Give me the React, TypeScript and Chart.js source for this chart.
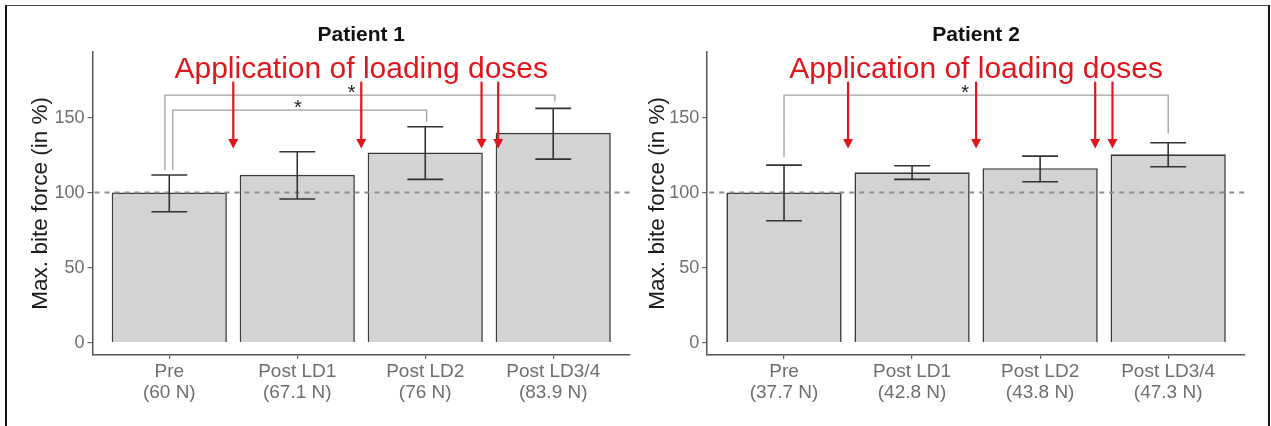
import React, { useEffect, useRef } from 'react';
import { Chart, registerables } from 'chart.js';

Chart.register(...registerables);

// ---------- data ----------
const categories = ['Pre', 'Post LD1', 'Post LD2', 'Post LD3/4'];
const p1Forces = ['(60 N)', '(67.1 N)', '(76 N)', '(83.9 N)'];
const p2Forces = ['(37.7 N)', '(42.8 N)', '(43.8 N)', '(47.3 N)'];

const p1Means = [100, 111.8, 126.7, 139.8];
const p1Lower = [87.2, 95.7, 108.8, 122.3];
const p1Upper = [111.7, 127.2, 143.9, 156.1];

const p2Means = [100, 113.5, 116.2, 125.5];
const p2Lower = [81.2, 108.8, 107.2, 117.2];
const p2Upper = [118.3, 117.9, 124.3, 133.2];

const yTicks = [0, 50, 100, 150];
const referenceLevel = 100;

// loading-dose arrows (category axis units)
const p1DoseArrows = [0.5, 1.5, 2.44, 2.57];
const p2DoseArrows = [0.5, 1.5, 2.43, 2.565];
const arrowTop = 173.9;
const arrowTip = 129.3;
const doseLabelLevel = 176.1;

// significance brackets: x1/x2 in category units, y levels in %
const p1Brackets = [
  { x1: -0.034, x2: 3.013, y: 165, y1: 115, y2: 160.5, starX: 1.425, label: '*' },
  { x1: 0.027, x2: 2.011, y: 155, y1: 115, y2: 147.2, starX: 1.005, label: '*' },
];
const p2Brackets = [
  { x1: 0, x2: 3, y: 165, y1: 123.9, y2: 139.5, starX: 1.415, label: '*' },
];

const FONT = "'Liberation Sans', Arial, Helvetica, sans-serif";

type PanelCfg = {
  id: string;
  title: string;
  left: number;
  width: number;
  yAxisWidth: number;
  padRight: number;
  yTitlePad: number;
  forces: string[];
  means: number[];
  lower: number[];
  upper: number[];
  arrows: number[];
  brackets: { x1: number; x2: number; y: number; y1: number; y2: number; starX: number; label: string }[];
};

const panels: PanelCfg[] = [
  {
    id: 'p1', title: 'Patient 1', left: 0, width: 640, yAxisWidth: 92.5, padRight: 10, yTitlePad: 27.3,
    forces: p1Forces, means: p1Means, lower: p1Lower, upper: p1Upper, arrows: p1DoseArrows, brackets: p1Brackets,
  },
  {
    id: 'p2', title: 'Patient 2', left: 640, width: 631, yAxisWidth: 67.2, padRight: 26, yTitlePad: 4.1,
    forces: p2Forces, means: p2Means, lower: p2Lower, upper: p2Upper, arrows: p2DoseArrows, brackets: p2Brackets,
  },
];

function makeAnnotPlugin(p: PanelCfg) {
  return {
    id: 'annot_' + p.id,
    afterDatasetsDraw(chart: any) {
      const { ctx, chartArea: ca } = chart;
      const x = chart.scales.x;
      const y = chart.scales.y;
      ctx.save();

      // reference dashed line
      const ry = y.getPixelForValue(referenceLevel);
      ctx.strokeStyle = '#8c8c8c';
      ctx.lineWidth = 2;
      ctx.setLineDash([5, 5]);
      ctx.beginPath();
      ctx.moveTo(ca.left + 2, ry);
      ctx.lineTo(ca.right, ry);
      ctx.stroke();
      ctx.setLineDash([]);

      // error bars
      ctx.strokeStyle = '#333';
      ctx.lineWidth = 1.6;
      const capHalf = 0.14;
      p.means.forEach((_, i) => {
        const cx = x.getPixelForValue(i);
        const yl = y.getPixelForValue(p.lower[i]);
        const yu = y.getPixelForValue(p.upper[i]);
        const c0 = x.getPixelForValue(i - capHalf);
        const c1 = x.getPixelForValue(i + capHalf);
        ctx.beginPath();
        ctx.moveTo(cx, yl); ctx.lineTo(cx, yu);
        ctx.moveTo(c0, yl); ctx.lineTo(c1, yl);
        ctx.moveTo(c0, yu); ctx.lineTo(c1, yu);
        ctx.stroke();
      });

      // significance brackets
      p.brackets.forEach((b) => {
        const bx1 = x.getPixelForValue(b.x1);
        const bx2 = x.getPixelForValue(b.x2);
        const by = y.getPixelForValue(b.y);
        ctx.strokeStyle = '#a0a0a0';
        ctx.lineWidth = 1.3;
        ctx.beginPath();
        ctx.moveTo(bx1, y.getPixelForValue(b.y1));
        ctx.lineTo(bx1, by);
        ctx.lineTo(bx2, by);
        ctx.lineTo(bx2, y.getPixelForValue(b.y2));
        ctx.stroke();
        ctx.fillStyle = '#222';
        ctx.font = `20px ${FONT}`;
        ctx.textAlign = 'center';
        ctx.textBaseline = 'alphabetic';
        ctx.fillText(b.label, x.getPixelForValue(b.starX), by + 4);
      });

      // red arrows
      const red = '#e0161c';
      ctx.strokeStyle = red;
      ctx.fillStyle = red;
      ctx.lineWidth = 2.2;
      const yt = y.getPixelForValue(arrowTop);
      const yp = y.getPixelForValue(arrowTip);
      p.arrows.forEach((a) => {
        const ax = x.getPixelForValue(a);
        ctx.beginPath();
        ctx.moveTo(ax, yt);
        ctx.lineTo(ax, yp - 7);
        ctx.stroke();
        ctx.beginPath();
        ctx.moveTo(ax - 5, yp - 9.5);
        ctx.lineTo(ax + 5, yp - 9.5);
        ctx.lineTo(ax, yp);
        ctx.closePath();
        ctx.fill();
      });

      // red label
      ctx.font = `30px ${FONT}`;
      ctx.textAlign = 'center';
      ctx.textBaseline = 'alphabetic';
      ctx.fillText('Application of loading doses', (ca.left + ca.right) / 2, y.getPixelForValue(doseLabelLevel));

      ctx.restore();
    },
  };
}

function Panel({ p }: { p: PanelCfg }) {
  const ref = useRef<HTMLCanvasElement>(null);
  useEffect(() => {
    if (!ref.current) return;
    Chart.defaults.font.family = FONT;
    const chart = new Chart(ref.current, {
      type: 'bar',
      data: {
        datasets: [
          {
            data: p.means.map((v, i) => ({ x: i, y: v })),
            backgroundColor: '#d3d3d3',
            borderColor: '#3a3a3a',
            borderWidth: 1.6,
            barPercentage: 0.9,
            categoryPercentage: 1,
          },
        ],
      },
      options: {
        responsive: false,
        animation: false,
        devicePixelRatio: 1,
        layout: { padding: { left: 0, right: p.padRight, top: 0, bottom: 0 } },
        plugins: {
          legend: { display: false },
          tooltip: { enabled: false },
          title: {
            display: true,
            text: p.title,
            fullSize: false,
            color: '#111',
            font: { size: 21, weight: 'bold', family: FONT },
            padding: { top: 22.4, bottom: 4.1 },
          },
        },
        scales: {
          x: {
            type: 'linear',
            offset: false,
            min: -0.6,
            max: 3.6,
            afterBuildTicks: (s: any) => {
              s.ticks = categories.map((_, i) => ({ value: i }));
            },
            afterFit: (s: any) => {
              s.height = 71;
            },
            ticks: {
              autoSkip: false,
              maxRotation: 0,
              padding: 2.5,
              color: '#6e6e6e',
              font: { size: 19, lineHeight: 1.1, family: FONT },
              callback: (v: any) => {
                const i = Math.round(Number(v));
                return [categories[i], p.forces[i]];
              },
            },
            grid: { offset: false, drawOnChartArea: false, drawTicks: true, tickLength: 4, color: '#666', lineWidth: 1.2 },
            border: { display: true, color: '#555', width: 1.5 },
          },
          y: {
            type: 'linear',
            min: -8.3,
            max: 193.9,
            afterBuildTicks: (s: any) => {
              s.ticks = yTicks.map((v) => ({ value: v }));
            },
            afterFit: (s: any) => {
              s.width = p.yAxisWidth;
            },
            ticks: {
              padding: 3,
              color: '#6e6e6e',
              font: { size: 18, family: FONT },
            },
            grid: { drawOnChartArea: false, drawTicks: true, tickLength: 5, color: '#666', lineWidth: 1.2 },
            border: { display: true, color: '#555', width: 1.5 },
            title: {
              display: true,
              text: 'Max. bite force (in %)',
              color: '#1a1a1a',
              font: { size: 22.5, family: FONT },
              padding: { top: p.yTitlePad, bottom: 0 },
            },
          },
        },
      } as any,
      plugins: [makeAnnotPlugin(p)],
    });
    return () => chart.destroy();
  }, [p]);
  return (
    <canvas
      ref={ref}
      width={p.width}
      height={426}
      style={{ position: 'absolute', left: p.left, top: 0, width: p.width, height: 426 }}
    />
  );
}

export default function App() {
  return (
    <div
      style={{
        position: 'fixed',
        left: 0,
        top: 0,
        width: 1271,
        height: 426,
        overflow: 'hidden',
        background: '#fff',
      }}
    >
      <div
        style={{
          position: 'absolute',
          left: 5,
          top: 5,
          width: 1265,
          height: 600,
          boxSizing: 'border-box',
          borderLeft: '2px solid #111',
          borderRight: '2px solid #111',
          borderTop: '1px solid #444',
        }}
      />
      {panels.map((p) => (
        <Panel key={p.id} p={p} />
      ))}
    </div>
  );
}
